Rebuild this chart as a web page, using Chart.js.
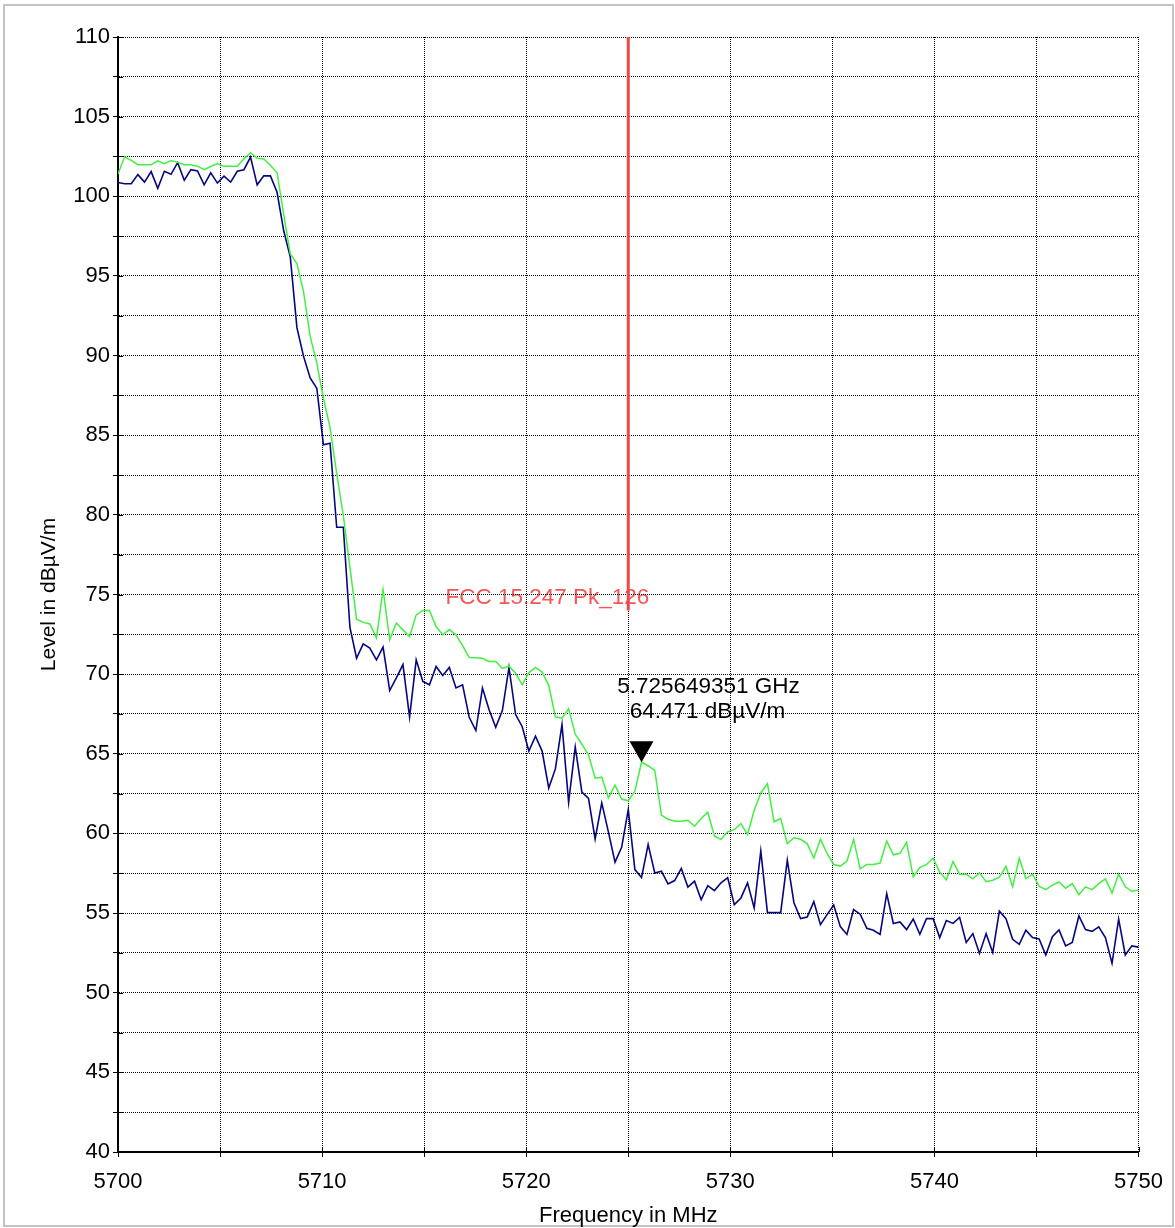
<!DOCTYPE html>
<html>
<head>
<meta charset="utf-8">
<script src="https://cdn.jsdelivr.net/npm/chart.js@4.4.1/dist/chart.umd.min.js"></script>
<style>
  body { margin: 0; background: #fff; }
  canvas { display: block; }
</style>
</head>
<body>
<canvas id="spectrum" width="1175" height="1228"></canvas>
<script>
// sweep: 155 points from 5700 to 5750 MHz
const FREQ_START = 5700;
const FREQ_STOP = 5750;
const POINTS = 155;
const freqs = [];
for (let i = 0; i < POINTS; i++) {
  freqs.push(FREQ_START + (i * (FREQ_STOP - FREQ_START)) / (POINTS - 1));
}

// levels in dBµV/m
const greenTrace = [
  101.4, 102.48, 102.26, 101.98, 101.98, 101.98, 102.23, 102.05, 102.24, 102.13,
  101.98, 101.98, 101.89, 101.67, 101.87, 102.05, 101.88, 101.88, 101.88, 102.35,
  102.74, 102.38, 102.34, 101.95, 101.48, 98.87, 96.38, 95.78, 94.0, 91.2,
  89.53, 87.32, 85.48, 82.6, 79.96, 76.7, 73.45, 73.25, 73.15, 72.28,
  75.3, 72.15, 73.21, 72.78, 72.36, 73.72, 74.0, 74.0, 72.99, 72.47,
  72.8, 72.47, 71.79, 71.05, 71.03, 71.0, 70.8, 70.8, 70.36, 70.5,
  70.06, 69.33, 70.1, 70.42, 70.13, 69.3, 67.32, 67.23, 67.82, 66.23,
  65.6, 64.93, 63.47, 63.53, 62.24, 63.03, 62.16, 62.05, 62.66, 64.471,
  64.25, 63.95, 61.15, 60.89, 60.77, 60.77, 60.83, 60.45, 60.94, 61.33,
  59.83, 59.63, 60.1, 60.24, 60.62, 59.93, 61.45, 62.54, 63.13, 60.73,
  60.93, 59.36, 59.73, 59.63, 59.36, 58.46, 59.63, 58.74, 58.05, 57.95,
  58.26, 59.63, 57.78, 58.05, 58.05, 58.14, 59.52, 58.66, 58.75, 59.44,
  57.27, 57.86, 58.05, 58.44, 57.57, 57.09, 58.23, 57.44, 57.44, 57.15,
  57.53, 56.97, 57.06, 57.25, 57.93, 56.66, 58.44, 57.17, 57.44, 56.69,
  56.47, 56.76, 56.95, 56.56, 56.85, 56.16, 56.65, 56.47, 56.85, 57.15,
  56.26, 57.44, 56.65, 56.37, 56.45,
];

const blueTrace = [
  100.87, 100.79, 100.79, 101.36, 100.89, 101.55, 100.5, 101.57, 101.38, 102.11,
  101.01, 101.67, 101.59, 100.72, 101.47, 100.83, 101.26, 100.89, 101.57, 101.67,
  102.46, 100.72, 101.28, 101.28, 100.25, 97.85, 96.18, 91.75, 89.95, 88.6,
  87.95, 84.4, 84.5, 79.22, 79.22, 72.93, 71.0, 71.9, 71.64, 70.9,
  71.7, 68.97, 69.76, 70.6, 67.3, 70.9, 69.54, 69.33, 70.48, 69.92,
  70.42, 69.13, 69.33, 67.29, 66.46, 69.13, 67.77, 66.67, 67.71, 70.42,
  67.46, 66.7, 65.17, 66.1, 65.17, 62.85, 64.05, 66.83, 61.95, 65.43,
  62.6, 62.2, 59.65, 61.92, 60.1, 58.2, 59.13, 61.5, 57.73, 57.23,
  59.3, 57.52, 57.63, 56.83, 57.04, 57.8, 56.63, 57.0, 55.84, 56.72,
  56.41, 56.9, 57.23, 55.53, 55.95, 56.9, 55.32, 58.9, 55.03, 55.03,
  55.03, 58.32, 55.65, 54.65, 54.75, 55.72, 54.27, 54.9, 55.5, 54.15,
  53.66, 55.22, 54.93, 54.04, 53.92, 53.66, 56.22, 54.35, 54.44, 53.96,
  54.63, 53.67, 54.65, 54.65, 53.46, 54.53, 54.35, 54.73, 53.15, 53.71,
  52.46, 53.71, 52.52, 55.12, 54.65, 53.35, 53.04, 53.92, 53.46, 53.38,
  52.37, 53.52, 53.94, 52.94, 53.15, 54.82, 53.96, 53.85, 54.13, 53.46,
  51.85, 54.62, 52.37, 52.94, 52.86,
];

// limit line (vertical at the band edge)
const limitFreq = [5725, 5725];
const limitLevel = [74, 110];
const limitLabel = "FCC 15.247 Pk_126";

// marker
const markerFreq = 5725.649351;
const markerLevel = 64.471;
const markerText = ["5.725649351 GHz", "64.471 dBµV/m"];

const FONT = "'Liberation Sans', Arial, sans-serif";

const toPoints = (xs, ys) => xs.map((x, i) => ({ x: x, y: ys[i] }));

// frame, limit label and marker text go under the grid, like the original
const underlay = {
  id: "underlay",
  beforeDraw(chart) {
    const { ctx, scales } = chart;
    ctx.save();
    ctx.strokeStyle = "#c4c4c4";
    ctx.lineWidth = 2;
    ctx.strokeRect(4, 5, 1169, 1221);

    ctx.font = "22.5px " + FONT;
    ctx.fillStyle = "#f25656";
    ctx.textAlign = "right";
    ctx.textBaseline = "middle";
    const lx = scales.x.getPixelForValue(limitFreq[0]);
    const ly = scales.y.getPixelForValue(limitLevel[0]);
    ctx.fillText(limitLabel, lx + 21, ly - 13);

    ctx.font = "22.5px " + FONT;
    ctx.fillStyle = "#000";
    ctx.textAlign = "center";
    const mx = scales.x.getPixelForValue(markerFreq);
    const my = scales.y.getPixelForValue(markerLevel);
    ctx.fillText(markerText[0], mx + 67, my - 75);
    ctx.fillText(markerText[1], mx + 66, my - 50);
    ctx.restore();
  },
};

// ticks that cross the axis, plus the marker triangle
const overlay = {
  id: "overlay",
  afterDatasetsDraw(chart) {
    const { ctx, chartArea, scales } = chart;
    ctx.save();
    ctx.strokeStyle = "#000";
    ctx.lineWidth = 1;
    scales.y.ticks.forEach((t) => {
      const y = Math.round(scales.y.getPixelForValue(t.value)) + 0.5;
      ctx.beginPath();
      ctx.moveTo(chartArea.left, y);
      ctx.lineTo(chartArea.left + 5, y);
      ctx.stroke();
    });
    scales.x.ticks.forEach((t) => {
      const x = Math.round(scales.x.getPixelForValue(t.value)) + 0.5;
      ctx.beginPath();
      ctx.moveTo(x, chartArea.bottom);
      ctx.lineTo(x, chartArea.bottom - 5);
      ctx.stroke();
    });

    const mx = scales.x.getPixelForValue(markerFreq);
    const my = scales.y.getPixelForValue(markerLevel);
    ctx.fillStyle = "#000";
    ctx.beginPath();
    ctx.moveTo(mx, my);
    ctx.lineTo(mx - 12, my - 21);
    ctx.lineTo(mx + 12, my - 21);
    ctx.closePath();
    ctx.fill();
    ctx.restore();
  },
};

new Chart(document.getElementById("spectrum"), {
  type: "line",
  data: {
    datasets: [
      {
        label: "Limit",
        data: toPoints(limitFreq, limitLevel),
        borderColor: "#f04848",
        borderWidth: 3,
        pointRadius: 0,
      },
      {
        label: "Trace 1",
        data: toPoints(freqs, greenTrace),
        borderColor: "#44ee44",
        borderWidth: 1.5,
        pointRadius: 0,
        tension: 0,
      },
      {
        label: "Trace 2",
        data: toPoints(freqs, blueTrace),
        borderColor: "#06067e",
        borderWidth: 1.6,
        pointRadius: 0,
        tension: 0,
      },
    ],
  },
  options: {
    responsive: false,
    animation: false,
    layout: { padding: { left: 30, top: 37, right: 35, bottom: 0 } },
    plugins: {
      legend: { display: false },
      tooltip: { enabled: false },
    },
    scales: {
      x: {
        type: "linear",
        min: FREQ_START,
        max: FREQ_STOP,
        afterFit: (scale) => {
          scale.height = 76;
        },
        ticks: {
          stepSize: 5,
          autoSkip: false,
          maxRotation: 0,
          padding: 12,
          color: "#000",
          font: { family: FONT, size: 22 },
          callback: (v) => (v % 10 === 0 ? String(v) : ""),
        },
        grid: {
          color: "#000",
          lineWidth: 1,
          tickLength: 5,
          tickColor: "#000",
        },
        border: { display: true, color: "#000", width: 2, dash: [1, 1] },
        title: {
          display: true,
          text: "Frequency in MHz",
          color: "#000",
          font: { family: FONT, size: 22, lineHeight: 1 },
          padding: { top: 0, bottom: 1 },
        },
      },
      y: {
        min: 40,
        max: 110,
        afterFit: (scale) => {
          scale.width = 88;
        },
        ticks: {
          stepSize: 2.5,
          autoSkip: false,
          padding: 3,
          color: "#000",
          font: { family: FONT, size: 22 },
          callback: (v) => (v % 5 === 0 ? String(v) : ""),
        },
        grid: {
          color: "#000",
          lineWidth: 1,
          tickLength: 5,
          tickColor: "#000",
        },
        border: { display: true, color: "#000", width: 2, dash: [1, 1] },
        title: {
          display: true,
          text: "Level in dBµV/m",
          color: "#000",
          font: { family: FONT, size: 21 },
          padding: { top: 7, bottom: 0 },
        },
      },
    },
  },
  plugins: [underlay, overlay],
});
</script>
</body>
</html>
